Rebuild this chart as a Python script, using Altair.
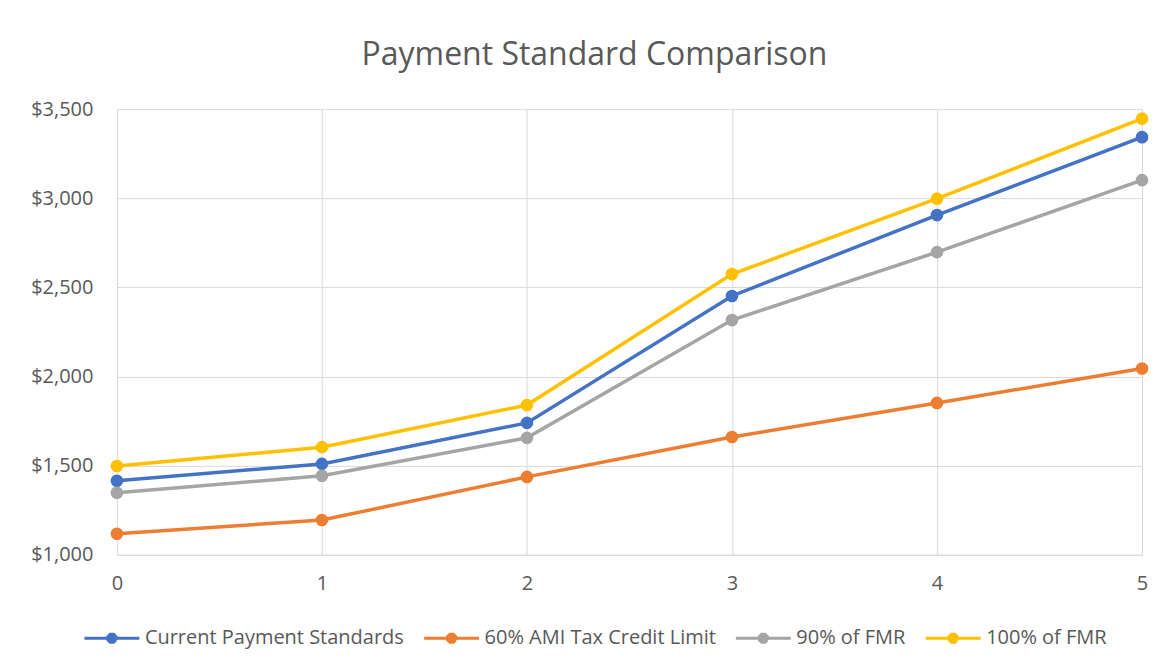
import altair as alt
import pandas as pd

bedrooms = [0, 1, 2, 3, 4, 5]
series_names = ["Current Payment Standards", "60% AMI Tax Credit Limit", "90% of FMR", "100% of FMR"]
current = [1415, 1510, 1740, 2452, 2906, 3343]
ami60 = [1118, 1195, 1437, 1661, 1852, 2045]
fmr90 = [1348, 1443, 1656, 2317, 2698, 3102]
fmr100 = [1498, 1604, 1840, 2575, 2998, 3447]
colors = ["#4472C4", "#ED7D31", "#A5A5A5", "#FFC000"]
y_ticks = [1000, 1500, 2000, 2500, 3000, 3500]

rows = []
for i, (name, vals) in enumerate(zip(series_names, [current, ami60, fmr90, fmr100])):
    for b, v in zip(bedrooms, vals):
        rows.append({"bedrooms": b, "value": v, "series": name, "order": i})
df = pd.DataFrame(rows)

FONT = "Open Sans"
TXT = "#595959"
GRID = "#D9D9D9"

x = alt.X("bedrooms:Q", scale=alt.Scale(domain=[0, 5], nice=False),
          axis=alt.Axis(values=bedrooms, format="d", title=None, grid=True,
                        gridColor=GRID, domainColor=GRID, ticks=False, labelFlush=False,
                        labelFontSize=20, labelPadding=19, labelColor=TXT, labelFont=FONT))
y = alt.Y("value:Q", scale=alt.Scale(domain=[1000, 3500], nice=False, zero=False),
          axis=alt.Axis(values=y_ticks, format="$,.0f", title=None, grid=True,
                        gridColor=GRID, domain=False, ticks=False,
                        labelFontSize=20, labelPadding=24, labelColor=TXT, labelFont=FONT))

# legend glyph: a line with a small marker (stroked octagon), no arcs, no Z
sym = ("M-1,0L1,0"
       "M0.148,0.061L0.061,0.148L-0.061,0.148L-0.148,0.061L-0.148,-0.061"
       "L-0.061,-0.148L0.061,-0.148L0.148,-0.061L0.148,0.061")
legend = alt.Legend(title=None, orient="none", legendX=-34, legendY=500, direction="horizontal",
                    symbolType=sym, symbolSize=3025, symbolStrokeWidth=3,
                    labelFontSize=20, labelFont=FONT, labelColor=TXT, labelLimit=0,
                    labelOffset=4, columnPadding=13)

sc = alt.Scale(domain=series_names, range=colors)

lines = alt.Chart(df).mark_line(strokeWidth=3.5).encode(
    x=x, y=y,
    color=alt.Color("series:N", scale=sc, legend=legend),
    order="bedrooms:Q",
)
points = alt.Chart(df).mark_point(filled=True, size=160, opacity=1).encode(
    x=x, y=y,
    color=alt.Color("series:N", scale=sc, legend=legend),
)

chart = alt.layer(lines, points).properties(
    width=1026, height=446,
    autosize=alt.AutoSizeParams(type="none"),
    padding={"left": 109, "top": 101, "right": 20, "bottom": 100},
    title=alt.TitleParams("Payment Standard Comparison", font=FONT, fontSize=32,
                          fontWeight="normal", color=TXT, anchor="middle", frame="group",
                          dx=-35, offset=27),
).configure_view(stroke=None)

chart.save("out.html", embed_options={"renderer": "svg", "actions": False})
